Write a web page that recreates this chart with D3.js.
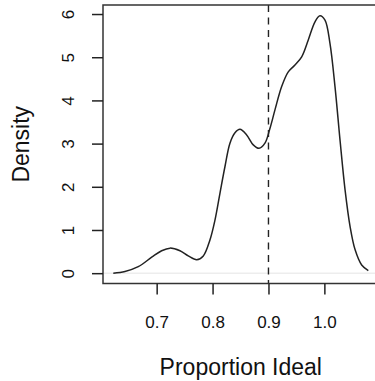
<!DOCTYPE html>
<html>
<head>
<meta charset="utf-8">
<script src="https://cdn.jsdelivr.net/npm/d3@7"></script>
<style>
  body { margin: 0; background: #fff; }
  svg { display: block; font-family: "Liberation Sans", Arial, Helvetica, sans-serif; }
</style>
</head>
<body>
<div id="container"></div>
<script>
// Chart size
const width = 375;
const height = 381;

// Density curve (proportion ideal -> density)
const propIdeal = [0.6224, 0.6433, 0.6671, 0.6911, 0.7089, 0.7238, 0.7417, 0.7565, 0.7716,
  0.7834, 0.7953, 0.8043, 0.8132, 0.8222, 0.8311, 0.8401, 0.849, 0.861, 0.8728, 0.883,
  0.8937, 0.9026, 0.9116, 0.9236, 0.9354, 0.9474, 0.9594, 0.9712, 0.9832, 0.9921,
  1.0011, 1.010, 1.019, 1.028, 1.037, 1.046, 1.055, 1.0667, 1.0786];
const density = [0.0, 0.04, 0.15, 0.37, 0.52, 0.58, 0.52, 0.40, 0.31,
  0.40, 0.77, 1.23, 1.85, 2.47, 3.01, 3.25, 3.33, 3.20, 2.97, 2.89,
  3.01, 3.35, 3.78, 4.32, 4.66, 4.82, 5.01, 5.40, 5.82, 5.96,
  5.86, 5.32, 4.32, 3.08, 1.93, 1.08, 0.54, 0.19, 0.06];

// Axis ticks and the reference line
const xTicks = [0.7, 0.8, 0.9, 1.0];
const yTicks = [0, 1, 2, 3, 4, 5, 6];
const refLine = 0.9;

const xLabel = "Proportion Ideal";
const yLabel = "Density";

// R-style plot region (4% padding on each side of the data range)
const x = d3.scaleLinear().domain([0.604, 1.097]).range([103, 378.6]);
const y = d3.scaleLinear().domain([-0.239, 6.209]).range([283.5, 5]);

const svg = d3.select('#container')
    .append('svg')
    .attr('width', width)
    .attr('height', height);

const ink = '#222';

// light grey zero line
svg.append('line')
    .attr('x1', x.range()[0]).attr('x2', x.range()[1])
    .attr('y1', y(0)).attr('y2', y(0))
    .style('stroke', '#e4e4e4')
    .style('stroke-width', 1);

// density curve
const pts = propIdeal.map((v, i) => [v, density[i]]);
svg.append('path')
    .datum(pts)
    .attr('d', d3.line()
        .x(d => x(d[0]))
        .y(d => y(d[1]))
        .curve(d3.curveCatmullRom.alpha(0.5)))
    .style('fill', 'none')
    .style('stroke', ink)
    .style('stroke-width', 1.5);

// dashed reference line
svg.append('line')
    .attr('x1', x(refLine)).attr('x2', x(refLine))
    .attr('y1', y.range()[1]).attr('y2', y.range()[0])
    .style('stroke', ink)
    .style('stroke-width', 1.4)
    .style('stroke-dasharray', '7,5.5');

// box
svg.append('rect')
    .attr('x', x.range()[0]).attr('y', y.range()[1])
    .attr('width', x.range()[1] - x.range()[0])
    .attr('height', y.range()[0] - y.range()[1])
    .style('fill', 'none')
    .style('stroke', '#333')
    .style('stroke-width', 1.5);

// x axis
const gx = svg.append('g')
    .attr('transform', `translate(0,${y.range()[0]})`)
    .call(d3.axisBottom(x)
        .tickValues(xTicks)
        .tickFormat(d3.format('.1f'))
        .tickSize(11)
        .tickSizeOuter(0));
gx.select('.domain').remove();
gx.selectAll('.tick line').style('stroke', ink).style('stroke-width', 1.5);
gx.selectAll('.tick text')
    .attr('y', 44.8)
    .attr('dy', 0)
    .style('font-size', '17px')
    .style('fill', '#111');

// y axis, labels rotated like R
const gy = svg.append('g')
    .attr('transform', `translate(${x.range()[0]},0)`)
    .call(d3.axisLeft(y)
        .tickValues(yTicks)
        .tickFormat(d3.format('d'))
        .tickSize(11)
        .tickSizeOuter(0));
gy.select('.domain').remove();
gy.selectAll('.tick line').style('stroke', ink).style('stroke-width', 1.5);
gy.selectAll('.tick text')
    .attr('x', 0)
    .attr('dy', 0)
    .attr('transform', 'translate(-29,0) rotate(-90)')
    .attr('text-anchor', 'middle')
    .style('font-size', '17px')
    .style('fill', '#111');

// axis titles
svg.append('text')
    .attr('x', (x.range()[0] + x.range()[1]) / 2)
    .attr('y', 375)
    .attr('text-anchor', 'middle')
    .style('font-size', '23px')
    .style('fill', '#111')
    .text(xLabel);

svg.append('text')
    .attr('transform', `translate(28.5,${(y.range()[0] + y.range()[1]) / 2}) rotate(-90)`)
    .attr('text-anchor', 'middle')
    .style('font-size', '23px')
    .style('fill', '#111')
    .text(yLabel);
</script>
</body>
</html>
